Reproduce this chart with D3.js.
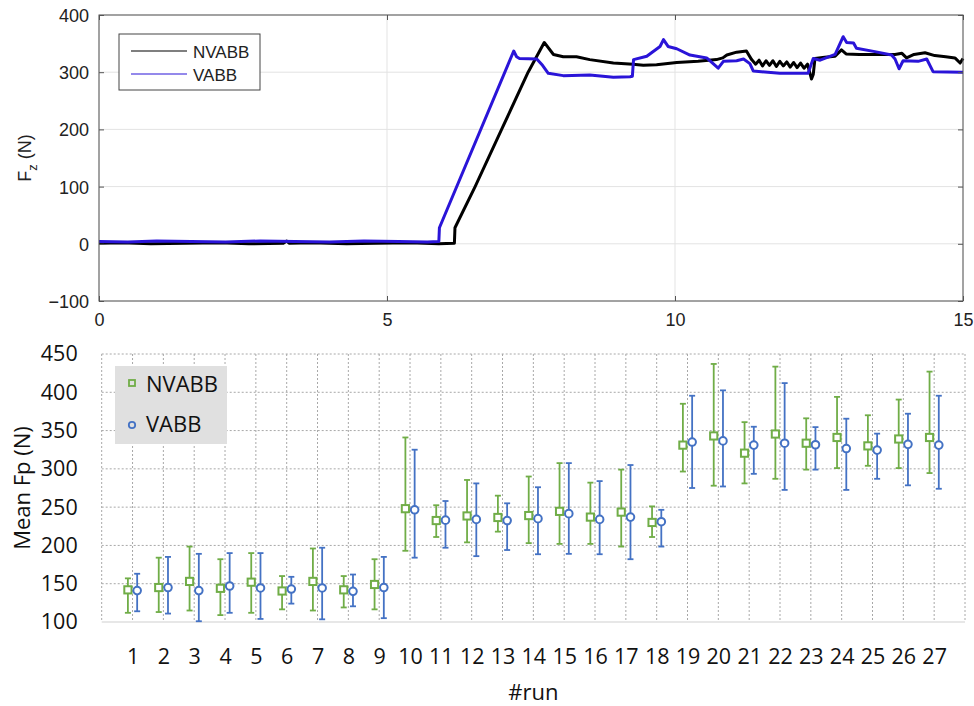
<!DOCTYPE html>
<html>
<head>
<meta charset="utf-8">
<script src="https://cdn.jsdelivr.net/npm/d3@7"></script>
<style>
  body { margin: 0; background: #fff; }
  svg { display: block; }
  .top text { font-family: "Liberation Sans", Arial, sans-serif; fill: #222; }
  .bot text { font-family: "Open Sans", "Noto Sans", sans-serif; fill: #111; }
</style>
</head>
<body>
<svg id="chart" width="974" height="706"></svg>
<script>
// ---- top panel: force trace ----
var tNV = [0, 0.4, 0.9, 1.5, 2.1, 2.6, 3.2, 3.26, 3.3, 3.7, 4.3, 4.8, 5.4, 5.9, 6.17, 6.18, 6.53, 6.99, 7.45, 7.73, 7.89, 8.06, 8.29, 8.52, 8.93, 9.27, 9.45, 9.68, 10.03, 10.4, 10.72, 10.83, 10.9, 11.07, 11.24, 11.33,
  11.4, 11.46, 11.52, 11.58, 11.64, 11.7, 11.76, 11.82, 11.88, 11.94, 12.0, 12.06, 12.12, 12.18, 12.24, 12.3, 12.37, 12.4, 12.43, 12.6, 12.78, 12.89, 12.97, 13.2, 13.47, 13.82, 13.94, 14.02, 14.15, 14.34, 14.51, 14.7, 14.86, 14.95, 15];
var fNV = [1, 2, 0, 1, 2, 0, 1, 5, 1, 2, 0, 1, 2, 0, 1, 28, 100, 200, 300, 352, 331, 327, 327, 322, 316, 314, 312, 313, 317, 319, 322, 325, 330, 335, 337, 322,
  314, 321, 311, 320, 312, 320, 310, 319, 311, 318, 309, 317, 308, 316, 307, 314, 288, 296, 324, 326, 328, 339, 332, 331, 331, 331, 333, 325, 331, 334, 329, 327, 325, 316, 324];

var tVA = [0, 0.5, 1.0, 1.6, 2.2, 2.8, 3.4, 4.0, 4.6, 5.2, 5.7, 5.9, 5.91, 7.2, 7.25, 7.3, 7.6, 7.7, 7.8, 8.06, 8.52, 8.93, 9.22, 9.26, 9.28, 9.51, 9.74, 9.8, 9.88, 10.03, 10.26, 10.55, 10.75, 10.84, 11.07, 11.19, 11.3, 11.36, 11.82, 12.31, 12.4, 12.52, 12.78, 12.92, 12.98, 13.1, 13.15, 13.47, 13.76, 13.82, 13.89, 13.96, 14.22, 14.37, 14.48, 14.98, 15];
var fVA = [4, 3, 5, 4, 3, 5, 4, 3, 5, 4, 3, 4, 28, 337, 327, 324, 323, 312, 298, 294, 295, 291, 292, 293, 322, 328, 345, 357, 345, 341, 330, 325, 307, 319, 320, 323, 315, 302, 298, 298, 324, 321, 331, 362, 352, 351, 342, 336, 330, 323, 306, 320, 319, 323, 301, 300, 300];

var topXTicks = [0, 5, 10, 15];
var topYTicks = [-100, 0, 100, 200, 300, 400];

// ---- bottom panel: mean force per run with error bars ----
var runs = d3.range(1, 28);
var nvMean = [142, 145, 153, 144, 152, 140.5, 153, 142, 149, 248, 232.5, 238.5, 236.5, 239, 244.5, 237, 243.5, 230, 331, 343, 320.5, 345.5, 333.5, 341, 330, 339, 341];
var nvLow  = [112, 113, 115, 109, 112, 116.5, 115, 119, 116.5, 193, 211, 204, 218, 203, 202, 202, 198.5, 211, 296.5, 278, 281, 287, 299, 301, 304, 301, 294.5];
var nvHigh = [157, 184, 198.5, 182, 190, 160, 196, 160, 182, 341, 252.5, 285.5, 265, 290, 307.5, 282, 299, 251, 385, 437, 361, 433.5, 366, 394, 370, 390.5, 427];
var vaMean = [141, 145, 141, 147, 144.5, 143, 144.5, 140, 145, 246.5, 233, 234, 232.5, 235, 241.5, 234, 237, 231, 335, 336.5, 331, 333.5, 331.5, 326.5, 324.5, 332, 331];
var vaLow  = [114, 111, 101, 112, 104, 124, 103.5, 120.5, 105, 184, 197, 186, 194, 188.5, 189, 188.5, 182, 198.5, 275, 277, 293.5, 272.5, 299, 272.5, 287, 278.5, 274];
var vaHigh = [163, 185, 189, 190, 190, 159, 197, 162, 185, 325, 258, 281, 255, 276, 307.5, 284, 305, 246.5, 395.5, 402.5, 355, 412, 354.5, 365.5, 346, 372, 395.5];
var botYTicks = [100, 150, 200, 250, 300, 350, 400, 450];

var svg = d3.select("#chart");
svg.append("rect").attr("width", 974).attr("height", 706).attr("fill", "#fff");

// ================= top chart =================
var T = { l: 99, r: 963, t: 15, b: 301 };
var xT = d3.scaleLinear().domain([0, 15]).range([T.l, T.r]);
var yT = d3.scaleLinear().domain([-100, 400]).range([T.b, T.t]);
var gt = svg.append("g").attr("class", "top");

gt.selectAll(".hg").data(topYTicks).enter().append("line")
  .attr("x1", T.l).attr("x2", T.r)
  .attr("y1", d => yT(d)).attr("y2", d => yT(d))
  .attr("stroke", "#e3e3e3").attr("stroke-width", 1);
gt.selectAll(".vg").data(topXTicks).enter().append("line")
  .attr("y1", T.t).attr("y2", T.b)
  .attr("x1", d => xT(d)).attr("x2", d => xT(d))
  .attr("stroke", "#e3e3e3").attr("stroke-width", 1);

var lineT = d3.line().x(d => xT(d[0])).y(d => yT(d[1]));
gt.append("path").datum(d3.zip(tNV, fNV)).attr("d", lineT)
  .attr("fill", "none").attr("stroke", "#000").attr("stroke-width", 3).attr("stroke-linejoin", "round");
gt.append("path").datum(d3.zip(tVA, fVA)).attr("d", lineT)
  .attr("fill", "none").attr("stroke", "#2a14d8").attr("stroke-width", 3).attr("stroke-linejoin", "round");

var axL = gt.append("g").attr("transform", "translate(" + T.l + ",0)")
  .call(d3.axisLeft(yT).tickValues(topYTicks).tickSize(-5).tickPadding(10));
var axB = gt.append("g").attr("transform", "translate(0," + T.b + ")")
  .call(d3.axisBottom(xT).tickValues(topXTicks).tickSize(-5).tickPadding(12));
var axR = gt.append("g").attr("transform", "translate(" + T.r + ",0)")
  .call(d3.axisRight(yT).tickValues(topYTicks).tickSize(-5).tickFormat(""));
var axTp = gt.append("g").attr("transform", "translate(0," + T.t + ")")
  .call(d3.axisTop(xT).tickValues(topXTicks).tickSize(-5).tickFormat(""));
[axL, axB, axR, axTp].forEach(function(a) {
  a.select(".domain").remove();
  a.selectAll("line").attr("stroke", "#555");
  a.selectAll("text").attr("font-size", 18).attr("fill", "#222");
});
axL.selectAll("text").attr("dy", "0.36em");
gt.append("rect").attr("x", T.l).attr("y", T.t).attr("width", T.r - T.l).attr("height", T.b - T.t)
  .attr("fill", "none").attr("stroke", "#555").attr("stroke-width", 1);

var yl = gt.append("text").attr("transform", "translate(31," + ((T.t + T.b) / 2) + ") rotate(-90)")
  .attr("text-anchor", "middle").attr("font-size", 18);
yl.append("tspan").text("F");
yl.append("tspan").attr("font-size", 13).attr("dy", 6).text("z");
yl.append("tspan").attr("dy", -6).text(" (N)");

// legend
var lg = gt.append("g");
lg.append("rect").attr("x", 119).attr("y", 34).attr("width", 141).attr("height", 56)
  .attr("fill", "#fff").attr("stroke", "#444").attr("stroke-width", 1);
[["NVABB", "#000"], ["VABB", "#2a14d8"]].forEach(function(s, i) {
  var yy = 51 + i * 23;
  lg.append("line").attr("x1", 131).attr("x2", 187).attr("y1", yy).attr("y2", yy)
    .attr("stroke", s[1]).attr("stroke-width", 1.2);
  lg.append("text").attr("x", 193).attr("y", yy + 6.5).attr("font-size", 17).text(s[0]);
});

// ================= bottom chart =================
var B = { l: 101.7, r: 965, t: 354, b: 622 };
var xB = d3.scaleLinear().domain([0, 28]).range([B.l, B.r]);
var yB = d3.scaleLinear().domain([100, 450]).range([B.b, B.t]);
var gb = svg.append("g").attr("class", "bot");

gb.selectAll(".hg").data(botYTicks.slice(1)).enter().append("line")
  .attr("x1", B.l).attr("x2", B.r)
  .attr("y1", d => yB(d)).attr("y2", d => yB(d))
  .attr("stroke", "#a8a8a8").attr("stroke-dasharray", "2,2");
gb.selectAll(".vg").data([0].concat(runs, [28])).enter().append("line")
  .attr("y1", B.t).attr("y2", B.b)
  .attr("x1", d => xB(d)).attr("x2", d => xB(d))
  .attr("stroke", "#a8a8a8").attr("stroke-dasharray", "2,2");
gb.append("line").attr("x1", B.l).attr("x2", B.r).attr("y1", B.b).attr("y2", B.b)
  .attr("stroke", "#d0d0d0").attr("stroke-width", 1.2);

var green = "#70ad47", blue = "#4472c4";
var off = 0.15, cap = 3;
function errBars(cls, vals, lo, hi, dx, col) {
  var g = gb.append("g").attr("class", cls);
  var rows = runs.map((r, i) => ({ r: r, m: vals[i], lo: lo[i], hi: hi[i] }));
  var e = g.selectAll("g").data(rows).enter().append("g");
  e.append("line").attr("x1", d => xB(d.r + dx)).attr("x2", d => xB(d.r + dx))
    .attr("y1", d => yB(d.lo)).attr("y2", d => yB(d.hi));
  e.append("line").attr("x1", d => xB(d.r + dx) - cap).attr("x2", d => xB(d.r + dx) + cap)
    .attr("y1", d => yB(d.hi)).attr("y2", d => yB(d.hi));
  e.append("line").attr("x1", d => xB(d.r + dx) - cap).attr("x2", d => xB(d.r + dx) + cap)
    .attr("y1", d => yB(d.lo)).attr("y2", d => yB(d.lo));
  e.selectAll("line").attr("stroke", col).attr("stroke-width", 1.8);
  return e;
}
var eNV = errBars("nv", nvMean, nvLow, nvHigh, -off, green);
eNV.append("rect").attr("x", d => xB(d.r - off) - 3.6).attr("y", d => yB(d.m) - 3.6)
  .attr("width", 7.2).attr("height", 7.2).attr("fill", "#fff").attr("stroke", green).attr("stroke-width", 2);
var eVA = errBars("va", vaMean, vaLow, vaHigh, off, blue);
eVA.append("circle").attr("cx", d => xB(d.r + off)).attr("cy", d => yB(d.m)).attr("r", 3.8)
  .attr("fill", "#fff").attr("stroke", blue).attr("stroke-width", 2);

var ayB = gb.append("g").attr("transform", "translate(" + B.l + ",0)")
  .call(d3.axisLeft(yB).tickValues(botYTicks).tickSize(0).tickPadding(24));
var axBB = gb.append("g").attr("transform", "translate(0," + B.b + ")")
  .call(d3.axisBottom(xB).tickValues(runs).tickSize(0).tickPadding(27));
[ayB, axBB].forEach(function(a) {
  a.select(".domain").remove();
  a.selectAll("text").attr("font-size", 21.5).attr("fill", "#111");
});

gb.append("text").attr("transform", "translate(30," + ((B.t + B.b) / 2) + ") rotate(-90)")
  .attr("text-anchor", "middle").attr("font-size", 22).text("Mean Fp (N)");
gb.append("text").attr("x", (B.l + B.r) / 2).attr("y", 700)
  .attr("text-anchor", "middle").attr("font-size", 22).text("#run");

// legend
var lb = gb.append("g");
lb.append("rect").attr("x", 115).attr("y", 366).attr("width", 112).attr("height", 78).attr("fill", "#e0e0e0");
lb.append("rect").attr("x", 129).attr("y", 380).attr("width", 6).attr("height", 6)
  .attr("fill", "none").attr("stroke", green).attr("stroke-width", 1.8);
lb.append("text").attr("x", 146).attr("y", 392).attr("font-size", 22).text("NVABB");
lb.append("circle").attr("cx", 132).attr("cy", 425).attr("r", 3.2)
  .attr("fill", "none").attr("stroke", blue).attr("stroke-width", 1.8);
lb.append("text").attr("x", 146).attr("y", 432).attr("font-size", 22).text("VABB");
</script>
</body>
</html>
